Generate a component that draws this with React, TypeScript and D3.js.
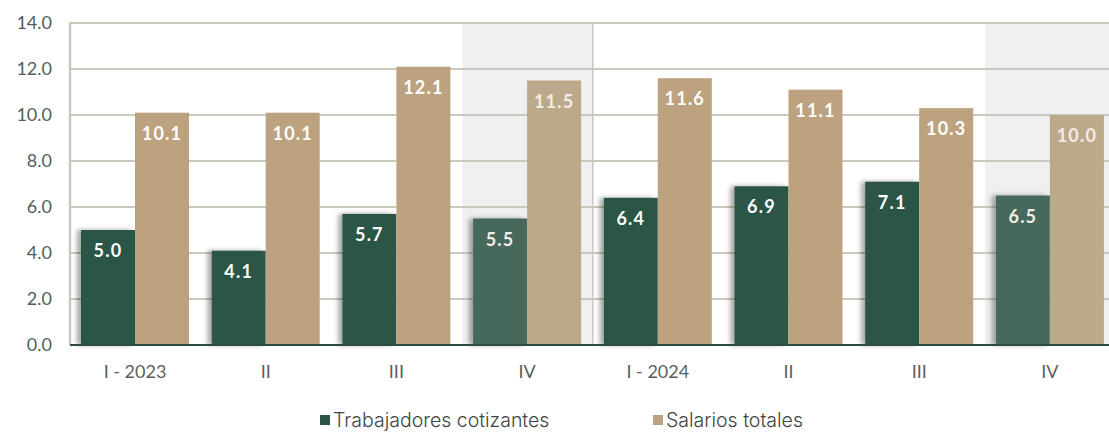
import React, { useRef, useEffect } from "react";
import * as d3 from "d3";

const categories = ["I - 2023", "II", "III", "IV", "I - 2024", "II ", "III ", "IV "];
const trabajadores = [5.0, 4.1, 5.7, 5.5, 6.4, 6.9, 7.1, 6.5];
const salarios = [10.1, 10.1, 12.1, 11.5, 11.6, 11.1, 10.3, 10.0];
const seriesNames = ["Trabajadores cotizantes", "Salarios totales"];
const yTicks = [0, 2, 4, 6, 8, 10, 12, 14];
const highlighted = ["IV", "IV "];

const W = 1109;
const H = 432;

const App = () => {
  const svgRef = useRef<SVGSVGElement | null>(null);

  useEffect(() => {
    const svg = d3.select(svgRef.current);
    svg.selectAll("*").remove();

    const margin = { top: 23, left: 70, bottom: 87 };
    const step = 130.7;
    const x0 = d3
      .scaleBand()
      .domain(categories)
      .range([margin.left, margin.left + step * categories.length])
      .padding(0);
    const x1 = d3.scaleBand().domain(seriesNames).range([11, 119]).padding(0);
    const y = d3.scaleLinear().domain([0, 14]).range([H - margin.bottom, margin.top]);

    const defs = svg.append("defs");
    const f = defs.append("filter").attr("id", "shadow").attr("x", "-30%").attr("width", "160%");
    f.append("feDropShadow")
      .attr("dx", -4)
      .attr("dy", 0)
      .attr("stdDeviation", 2.5)
      .attr("flood-color", "#000")
      .attr("flood-opacity", 0.35);

    // shaded IV bands
    svg
      .append("g")
      .selectAll("rect")
      .data(highlighted)
      .enter()
      .append("rect")
      .attr("x", (d) => x0(d)!)
      .attr("y", y(14))
      .attr("width", x0.bandwidth())
      .attr("height", y(0) - y(14))
      .attr("fill", "#f0f0f0");

    // grid lines
    svg
      .append("g")
      .selectAll("line")
      .data(yTicks.filter((t) => t > 0))
      .enter()
      .append("line")
      .attr("x1", margin.left)
      .attr("x2", W)
      .attr("y1", (d) => y(d))
      .attr("y2", (d) => y(d))
      .attr("stroke", "#c9c9bd")
      .attr("stroke-width", 2);

    // left axis line and year separator
    svg
      .append("line")
      .attr("x1", margin.left)
      .attr("x2", margin.left)
      .attr("y1", y(14) - 1)
      .attr("y2", y(0))
      .attr("stroke", "#c9c9bd")
      .attr("stroke-width", 2.5);
    svg
      .append("line")
      .attr("x1", x0("I - 2024")!)
      .attr("x2", x0("I - 2024")!)
      .attr("y1", y(14))
      .attr("y2", y(0))
      .attr("stroke", "#c9c9bd")
      .attr("stroke-width", 1.5);

    // y tick labels
    svg
      .append("g")
      .selectAll("text")
      .data(yTicks)
      .enter()
      .append("text")
      .attr("x", 52)
      .attr("y", (d) => y(d))
      .attr("dy", "0.35em")
      .attr("text-anchor", "end")
      .attr("font-family", "Lato, sans-serif")
      .attr("font-size", 18)
      .attr("fill", "#4f5f5a")
      .text((d) => d.toFixed(1));

    const rows = categories.map((c, i) => ({
      cat: c,
      hi: highlighted.includes(c),
      vals: [trabajadores[i], salarios[i]],
    }));

    const colors = ["#2a5446", "#bca27e"];
    const hiColors = ["#46695b", "#bca88a"];

    const groups = svg
      .append("g")
      .selectAll("g")
      .data(rows)
      .enter()
      .append("g")
      .attr("transform", (d) => `translate(${x0(d.cat)},0)`);

    groups.each(function (row) {
      const g = d3.select(this);
      row.vals.forEach((v, si) => {
        g.append("rect")
          .attr("x", x1(seriesNames[si])!)
          .attr("y", y(v))
          .attr("width", x1.bandwidth())
          .attr("height", y(0) - y(v))
          .attr("fill", row.hi ? hiColors[si] : colors[si])
          .attr("filter", si === 0 ? "url(#shadow)" : null);
      });
      row.vals.forEach((v, si) => {
        g.append("text")
          .attr("x", x1(seriesNames[si])! + x1.bandwidth() / 2)
          .attr("y", y(v) + 27)
          .attr("text-anchor", "middle")
          .attr("font-family", "Lato, sans-serif")
          .attr("font-weight", 700)
          .attr("font-size", 18)
          .attr("letter-spacing", 1.2)
          .attr("fill", row.hi ? "#f1ede6" : "#ffffff")
          .text(v.toFixed(1));
      });
    });

    // baseline
    svg
      .append("line")
      .attr("x1", margin.left)
      .attr("x2", W)
      .attr("y1", y(0))
      .attr("y2", y(0))
      .attr("stroke", "#2f4a42")
      .attr("stroke-width", 2);

    // x labels
    svg
      .append("g")
      .selectAll("text")
      .data(categories)
      .enter()
      .append("text")
      .attr("x", (d) => x0(d)! + 65)
      .attr("y", 378)
      .attr("text-anchor", "middle")
      .attr("font-family", "Lato, sans-serif")
      .attr("font-size", 18)
      .attr("fill", "#5a5f5d")
      .text((d) => d.trim());

    // legend
    const legend = [
      { name: seriesNames[0], color: colors[0], x: 320 },
      { name: seriesNames[1], color: colors[1], x: 653 },
    ];
    const lg = svg
      .append("g")
      .selectAll("g")
      .data(legend)
      .enter()
      .append("g")
      .attr("transform", (d) => `translate(${d.x},0)`);
    lg.append("rect").attr("x", 0).attr("y", 415).attr("width", 10).attr("height", 10).attr("fill", (d) => d.color);
    lg.append("text")
      .attr("x", 13)
      .attr("y", 427)
      .attr("font-family", "Inter, sans-serif")
      .attr("font-weight", 300)
      .attr("font-size", 19.5)
      .attr("fill", "#3d4542")
      .text((d) => d.name);
  }, []);

  return (
    <svg
      ref={svgRef}
      width={W}
      height={H}
      style={{ position: "absolute", left: 0, top: 0, display: "block", background: "#fff" }}
    ></svg>
  );
};

export default App;
